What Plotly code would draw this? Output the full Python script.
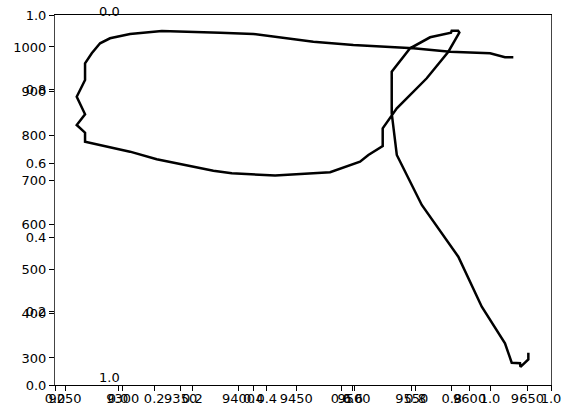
import plotly.graph_objects as go

# ---- data ----
track_x = [9637.8, 9630.6, 9617.7, 9583.1, 9551.3, 9528.3, 9499.4, 9464.8, 9412.9, 9384.1,
           9333.7, 9306.2, 9288.9, 9280.3, 9273.1, 9267.3, 9267.3, 9260.1, 9267.3, 9260.1,
           9267.3, 9267.3, 9286.1, 9306.2, 9329.3, 9352.3, 9378.3, 9394.2, 9431.7, 9479.3,
           9505.2, 9512.4, 9524.8, 9524.8, 9537.0, 9562.9, 9581.6, 9591.1, 9590.0, 9584.5,
           9583.9, 9565.8, 9548.5, 9532.6, 9532.6, 9537.0, 9551.3, 9558.6, 9590.2, 9610.5,
           9630.6, 9636.4, 9643.6, 9644.0, 9650.8, 9650.8]
track_y = [976.8, 976.8, 985.8, 989.4, 997.1, 1000.7, 1004.5, 1011.9, 1029.3, 1032.2,
           1036.0, 1029.3, 1019.6, 1008.3, 985.8, 963.3, 925.7, 888.1, 848.5, 824.4,
           807.1, 786.9, 775.6, 764.4, 747.2, 734.4, 721.6, 715.7, 710.8, 718.0,
           741.8, 756.9, 777.2, 817.0, 862.0, 929.6, 989.4, 1032.6, 1036.7, 1036.7,
           1032.2, 1021.8, 997.1, 944.4, 850.8, 756.9, 682.7, 644.4, 528.0, 415.5,
           333.1, 289.4, 288.1, 279.8, 296.7, 311.9]

unit_ticks = [0.0, 0.2, 0.4, 0.6, 0.8, 1.0]
unit_labels = ["0.0", "0.2", "0.4", "0.6", "0.8", "1.0"]
data_x_ticks = [9250, 9300, 9350, 9400, 9450, 9500, 9550, 9600, 9650]
data_y_ticks = [300, 400, 500, 600, 700, 800, 900, 1000]
stray_labels = ["0.0", "1.0"]

FONT = dict(family="DejaVu Sans", size=13, color="black")

fig = go.Figure()
fig.add_trace(go.Scatter(x=[], y=[], xaxis="x", yaxis="y", showlegend=False))
fig.add_trace(go.Scatter(x=[], y=[], xaxis="x3", yaxis="y", showlegend=False))
fig.add_trace(go.Scatter(x=track_x, y=track_y, xaxis="x2", yaxis="y2", mode="lines",
                         line=dict(color="black", width=2.5), showlegend=False,
                         hoverinfo="skip"))

common = dict(showgrid=False, zeroline=False, ticks="outside", ticklen=5, tickwidth=1,
              tickcolor="black", tickfont=FONT, automargin=False)
xcommon = dict(common, ticklabelstandoff=-4)

fig.update_layout(
    width=571, height=418,
    margin=dict(l=55, r=20, t=15, b=33, autoexpand=False),
    paper_bgcolor="white", plot_bgcolor="white",
    xaxis=dict(domain=[0, 1], range=[0, 1], tickvals=unit_ticks, ticktext=unit_labels,
               showline=True, linecolor="black", linewidth=1, mirror=True, anchor="y", **xcommon),
    yaxis=dict(domain=[0, 1], range=[0, 1], tickvals=unit_ticks, ticktext=unit_labels,
               showline=True, linecolor="#444", linewidth=1, mirror=True, anchor="x", **common),
    xaxis2=dict(overlaying="x", anchor="y", side="bottom", range=[9241.3, 9670.4],
                tickvals=data_x_ticks, ticktext=[str(v) for v in data_x_ticks],
                showline=False, **xcommon),
    yaxis2=dict(overlaying="y", anchor="x", side="left", range=[239.2, 1072.0],
                tickvals=data_y_ticks, ticktext=[str(v) for v in data_y_ticks],
                showline=False, **common),
    xaxis3=dict(overlaying="x", anchor="y", side="bottom", range=[-0.1694, 1.164],
                tickvals=unit_ticks, ticktext=unit_labels, showline=False, **xcommon),
)

fig.add_annotation(x=0.0847, y=1.0, xref="paper", yref="paper", text=stray_labels[0],
                   showarrow=False, font=FONT, yanchor="bottom", yshift=-6)
fig.add_annotation(x=0.0847, y=0.0, xref="paper", yref="paper", text=stray_labels[1],
                   showarrow=False, font=FONT, yanchor="bottom", yshift=-2)

fig.write_html("out.html")
